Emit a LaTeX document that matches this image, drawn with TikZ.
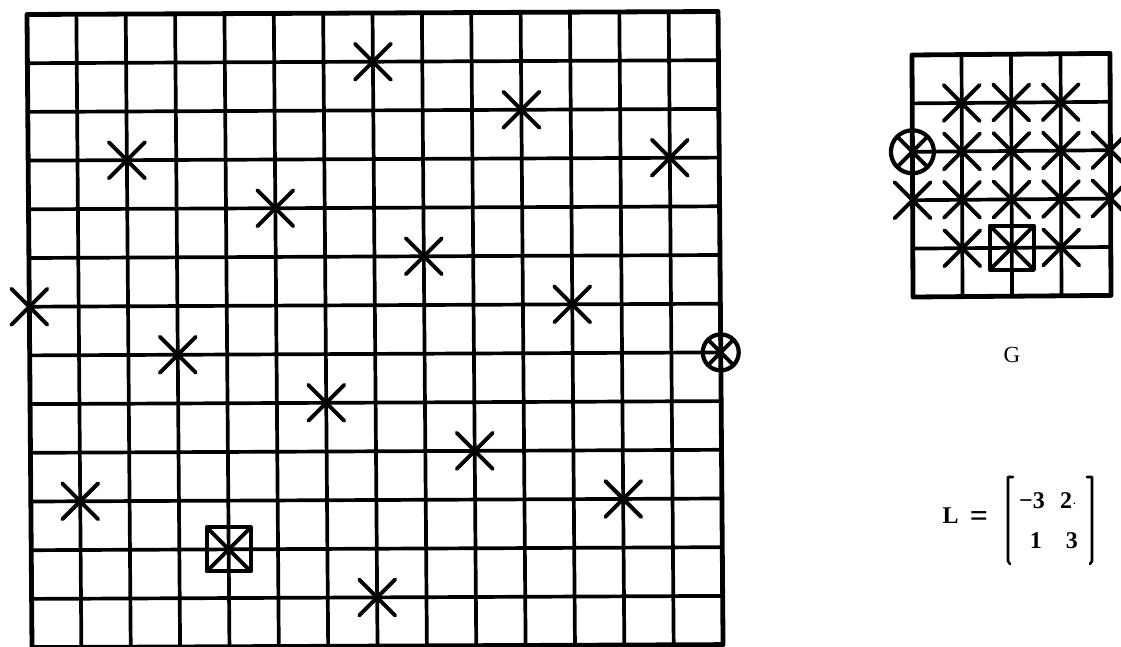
\documentclass[tikz,border=0pt]{standalone}
\usepackage{fontspec}
\setmainfont{Liberation Serif}
\begin{document}
\begin{tikzpicture}[x=1pt,y=-1pt,line join=round]
\tikzset{
  gridline/.style={line width=3.7pt},
  border/.style={line width=4.8pt},
  starline/.style={line width=3.9pt,line cap=round},
  markline/.style={line width=4.2pt},
  bracketline/.style={line width=2.6pt,line cap=round},
  xstar/.pic={\draw[starline] (-18pt,-18pt)--(18pt,18pt) (-18pt,18pt)--(18pt,-18pt);},
  xin/.pic={\draw[starline] (-\pgfkeysvalueof{/tikz/xhalf},-\pgfkeysvalueof{/tikz/xhalf})--(\pgfkeysvalueof{/tikz/xhalf},\pgfkeysvalueof{/tikz/xhalf}) (-\pgfkeysvalueof{/tikz/xhalf},\pgfkeysvalueof{/tikz/xhalf})--(\pgfkeysvalueof{/tikz/xhalf},-\pgfkeysvalueof{/tikz/xhalf});},
  xhalf/.initial=13pt,
  txt/.style={font=\fontsize{23}{27}\selectfont, inner sep=0pt},
  btxt/.style={font=\fontsize{24}{28}\selectfont\bfseries, inner sep=0pt}
}
\useasboundingbox (0,0) rectangle (1121,647);
\clip (0,0) rectangle (1121,647);
\fill[white] (0,0) rectangle (1121,647);

% ---------- big grid ----------
\begin{scope}[shift={(27,14.5)}, x={(49.36pt,0.214pt)}, y={(0.385pt,-48.7pt)}]
  \foreach \c in {1,...,13} \draw[gridline] (\c,0) -- (\c,13);
  \foreach \r in {1,...,12} \draw[gridline] (0,\r) -- (14,\r);
  \draw[border] (0,0) -- (14,0) -- (14,13) -- (0,13) -- cycle;
  \foreach \p in {(7,1),(10,2),(2,3),(13,3),(5,4),(8,5),(0,6),(11,6),(3,7),(6,8),(9,9),(1,10),(12,10),(7,12)}
    \pic at \p {xstar};
  % circle marker
  \draw[markline] (14,7) circle[radius=18pt];
  \pic[xhalf=13pt] at (14,7) {xin};
  % square marker
  \draw[markline] (4,11) ++(-22pt,-22pt) rectangle ++(44pt,44pt);
  \pic[xhalf=20pt] at (4,11) {xin};
\end{scope}

% ---------- small grid G ----------
\begin{scope}[shift={(912,55)}, x={(49.5pt,0.4pt)}, y={(0.2pt,-48.4pt)}]
  \foreach \c in {1,...,3} \draw[gridline] (\c,0) -- (\c,5);
  \foreach \r in {1,...,4} \draw[gridline] (0,\r) -- (4,\r);
  \draw[border] (0,0) -- (4,0) -- (4,5) -- (0,5) -- cycle;
  \foreach \p in {(1,1),(2,1),(3,1),(1,2),(2,2),(3,2),(4,2),(0,3),(1,3),(2,3),(3,3),(4,3),(1,4),(3,4)}
    \pic at \p {xstar};
  \draw[markline] (0,2) circle[radius=21.5pt];
  \pic[xhalf=15pt] at (0,2) {xin};
  \draw[markline] (2,4) ++(-22pt,-22pt) rectangle ++(44pt,44pt);
  \pic[xhalf=20pt] at (2,4) {xin};
\end{scope}

% ---------- labels ----------
\node[txt, anchor=base] (glabel) at (1012,362) {G};

\node[btxt, anchor=base] (lsym) at (950.5,523) {L};
\node[btxt, anchor=center, font=\fontsize{32}{32}\selectfont\bfseries] (eqsign) at (979,519) {=};
\node[btxt, anchor=base east] (m11) at (1045,508) {−3};
\node[btxt, anchor=base west] (m12) at (1060,508) {2\rlap{\mdseries\fontsize{14}{14}\selectfont ·}};
\node[btxt, anchor=base east] (m21) at (1042,548) {1};
\node[btxt, anchor=base east] (m22) at (1078,548) {3};
\draw[bracketline] (1013,477) -- (1008,477) -- (1008,561) -- (1010,564);
\draw[bracketline] (1087,477) -- (1092,477) -- (1092,561) -- (1090,564);
\end{tikzpicture}
\end{document}
